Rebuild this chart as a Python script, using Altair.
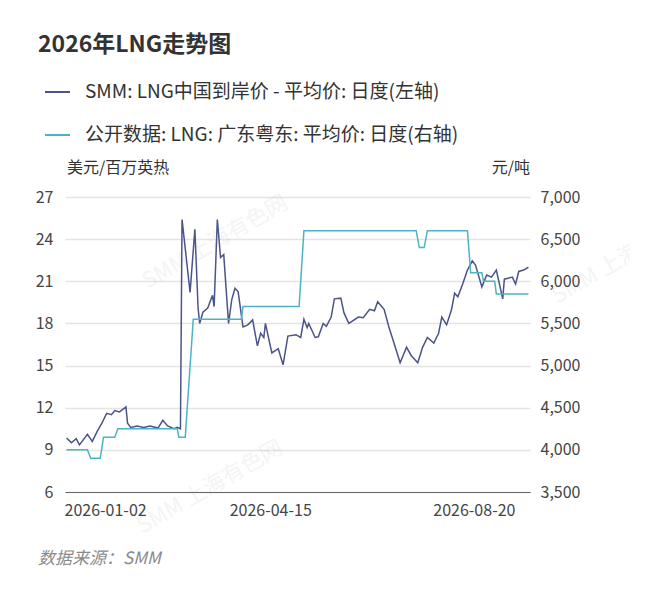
import pandas as pd
import altair as alt

# day offsets from 2026-01-02 and values
lng_days = [-24, -21, -18, -16, -11, -8, -5, -2, 1, 4, 6, 9, 13, 14, 16, 20, 24, 28, 33, 36, 39, 43, 45, 47,
            48, 53, 56, 58, 59, 61, 64, 67, 68, 70, 72, 74, 77, 79, 81, 83, 86, 89, 92, 95, 97, 99, 100,
            104, 108, 111, 114, 119, 122, 124, 126, 127, 131, 133, 136, 138, 141, 143, 147, 149, 152, 158,
            161, 165, 168, 170, 174, 177, 181, 184, 188, 191, 195, 198, 201, 205, 208, 210, 213, 216, 218,
            220, 223, 226, 229, 231, 235, 238, 241, 244, 248, 249, 254, 256, 258, 261, 264]
lng_vals = [9.85, 9.5, 9.8, 9.35, 10.1, 9.6, 10.3, 10.9, 11.6, 11.5, 11.8, 11.7, 12.05, 10.9, 10.6, 10.7,
            10.6, 10.7, 10.55, 11.1, 10.7, 10.5, 10.6, 10.5,
            25.4, 20.2, 24.7, 19.1, 18.0, 18.8, 19.1, 20.0, 19.2, 25.4, 22.7, 22.9, 18.0, 19.7, 20.5, 20.25,
            17.75, 17.9, 18.25, 16.4, 17.3, 17.0, 18.0, 15.9, 16.2, 15.05, 17.1, 17.2, 17.0, 18.3, 17.7, 18.0,
            17.0, 17.05, 18.0, 17.8, 18.45, 19.75, 19.8, 18.75, 18.0, 18.45, 18.4, 19.0, 18.9, 19.55, 19.0,
            17.75, 16.3, 15.2, 16.3, 15.7, 15.2, 16.3, 17.0, 16.6, 17.3, 18.45, 17.9, 18.95, 20.15, 19.9,
            20.8, 21.8, 22.45, 22.15, 20.6, 21.45, 21.3, 21.8, 19.75, 21.15, 21.3, 20.8, 21.7, 21.8, 22.0]

gd_days = [-24, -11, -9, -3, -1, 6, 8, 45, 46, 50, 55, 85, 86, 121, 124, 194, 196, 199, 201, 226, 228,
           235, 236, 243, 244, 264]
gd_vals = [4000, 4000, 3900, 3900, 4150, 4150, 4250, 4250, 4150, 4150, 5550, 5550, 5700, 5700, 6600, 6600,
           6400, 6400, 6600, 6600, 6100, 6100, 6000, 6000, 5850, 5850]

tick_days = [0, 103, 230]
tick_labels = ["2026-01-02", "2026-04-15", "2026-08-20"]

BLUE = "#4b5489"
CYAN = "#4db3c4"
W, H = 465, 295
FONT = "Noto Sans CJK SC"

lng = pd.DataFrame({"d": lng_days, "v": lng_vals})
gd = pd.DataFrame({"d": gd_days, "v": gd_vals})

label_expr = " : ".join(
    f"datum.value == {d} ? '{t}'" for d, t in zip(tick_days, tick_labels)
) + " : ''"

x = alt.X("d:Q", scale=alt.Scale(domain=[-25, 265], nice=False, zero=False),
          axis=alt.Axis(values=tick_days, labelExpr=label_expr, title=None, grid=False,
                        ticks=False, domainColor="#666", labelFontSize=16, labelColor="#444",
                        labelPadding=10, labelFont=FONT))

left = alt.Chart(lng).mark_line(color=BLUE, strokeWidth=1.5).encode(
    x=x,
    y=alt.Y("v:Q", scale=alt.Scale(domain=[6, 27], nice=False, zero=False),
            axis=alt.Axis(values=list(range(6, 28, 3)), title=None, domain=False, ticks=False,
                          gridColor="#e4e4e4", gridWidth=1.5, labelFontSize=16, labelColor="#444",
                          labelPadding=12, labelFont=FONT)),
)

right = alt.Chart(gd).mark_line(color=CYAN, strokeWidth=1.5).encode(
    x=x,
    y=alt.Y("v:Q", scale=alt.Scale(domain=[3500, 7000], nice=False, zero=False),
            axis=alt.Axis(orient="right", values=list(range(3500, 7001, 500)),
                          labelExpr="format(datum.value, ',')",
                          title=None, domain=False, ticks=False, grid=False, labelFontSize=16,
                          labelColor="#444", labelPadding=10, labelFont=FONT)),
)

data_layer = alt.layer(left, right).resolve_scale(y="independent")

# annotations (title, legend, axis units, footer)
texts = pd.DataFrame({
    "t": ["2026年LNG走势图", "SMM: LNG中国到岸价 - 平均价: 日度(左轴)", "公开数据: LNG: 广东粤东: 平均价: 日度(右轴)",
          "美元/百万英热", "元/吨"],
    "x": [-27, 20, 20, 2, 465],
    "y": [-152, -105, -62, -29, -29],
    "size": [23, 19, 19, 16, 16],
    "weight": ["bold", "normal", "normal", "normal", "normal"],
    "align": ["left", "left", "left", "left", "right"],
})

def txt(i):
    r = texts.iloc[i]
    return alt.Chart(texts.iloc[[i]]).mark_text(
        align=r["align"], baseline="middle", fontSize=int(r["size"]), fontWeight=r["weight"],
        color="#333", font=FONT,
    ).encode(x=alt.value(int(r["x"])), y=alt.value(int(r["y"])), text="t:N")

ann = [txt(i) for i in range(len(texts))]

legend_lines = [
    alt.Chart(pd.DataFrame({"a": [0]})).mark_rule(color=c, strokeWidth=2).encode(
        x=alt.value(-20), x2=alt.value(5), y=alt.value(yy))
    for c, yy in [(BLUE, -105), (CYAN, -62)]
]

footer = alt.Chart(pd.DataFrame({"t": ["数据来源：SMM"]})).mark_text(
    align="left", baseline="middle", fontSize=17, fontStyle="italic", color="#8a8a8a", font=FONT
).encode(x=alt.value(-27), y=alt.value(362), text="t:N")

wm = pd.DataFrame({"t": ["SMM 上海有色网"] * 3, "px": [150, 145, 560], "py": [45, 290, 60]})
watermark = alt.layer(*[
    alt.Chart(wm.iloc[[i]]).mark_text(fontSize=22, angle=330, color="#999", opacity=0.1, font=FONT)
    .encode(x=alt.value(int(wm.px[i])), y=alt.value(int(wm.py[i])), text="t:N")
    for i in range(len(wm))
])

chart = alt.layer(
    data_layer, watermark, *ann, *legend_lines, footer
).resolve_scale(y="independent").properties(
    width=W, height=H,
    autosize=alt.AutoSizeParams(type="none"),
    padding={"left": 57, "top": 189, "right": 100, "bottom": 90},
).configure_view(stroke=None)

chart.save("out.html", embed_options={"renderer": "svg", "actions": False})
